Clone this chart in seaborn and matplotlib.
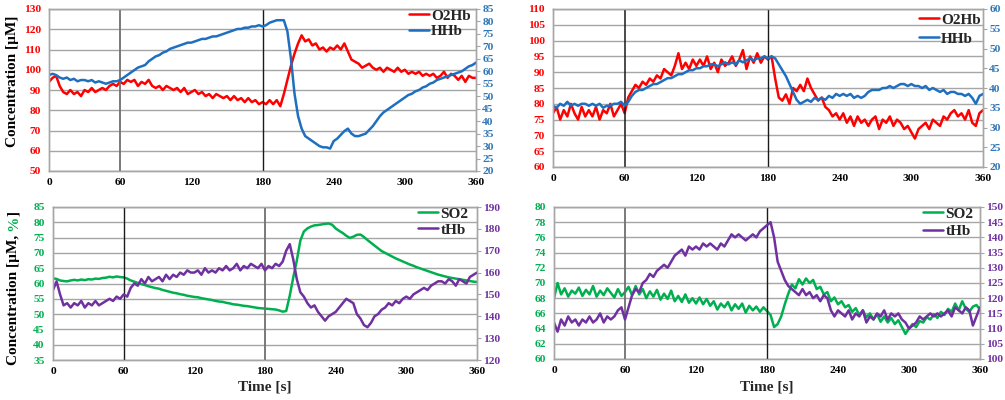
import numpy as np
import pandas as pd
import matplotlib
matplotlib.use("Agg")
import matplotlib.pyplot as plt
import seaborn as sns

# ---------------- data (every 3 s) ----------------
time_s = np.arange(0, 361, 3)
events = [60, 180]

# Panel A (top-left)
o2hb_a = [94, 96, 97, 92, 89, 88, 90, 88, 89, 87,
          90, 89, 91, 89, 90, 91, 90, 92, 93, 92,
          94, 93, 95, 94, 95, 92, 94, 93, 95, 92,
          91, 92, 90, 92, 91, 90, 91, 89, 91, 88,
          89, 90, 88, 89, 87, 88, 86, 88, 87, 86,
          87, 85, 87, 85, 86, 84, 86, 84, 85, 83,
          84, 83, 85, 83, 85, 82, 88, 95, 102, 108,
          113, 117, 114, 115, 112, 113, 110, 111, 109, 111,
          110, 112, 110, 113, 109, 105, 104, 103, 101, 102,
          103, 101, 100, 101, 99, 101, 100, 99, 101, 99,
          100, 98, 99, 98, 99, 97, 98, 97, 98, 96,
          97, 99, 96, 98, 97, 95, 97, 94, 97, 96,
          96]
hhb_a = [58.5, 59, 58.5, 57.5, 57, 57.5, 56.5, 57, 56, 56.5,
         56.5, 56, 56.5, 55.5, 56, 55.5, 55, 55.5, 56, 56,
         56.5, 57.5, 58.5, 59.5, 60.5, 61.5, 62, 62.5, 64, 65,
         66, 66.5, 67.5, 68, 69, 69.5, 70, 70.5, 71, 71.5,
         71.5, 72, 72.5, 73, 73, 73.5, 74, 74, 74.5, 75,
         75.5, 76, 76.5, 77, 77, 77.5, 77.5, 78, 78, 78.5,
         78, 78.5, 79.5, 80, 80.5, 80.5, 80.5, 76, 65, 51,
         42, 37, 34, 33, 32, 31, 30, 29.5, 29.5, 29,
         32, 33, 34.5, 36, 37, 35, 34, 34, 34.5, 35,
         36.5, 38, 40, 42, 43.5, 44.5, 45.5, 46.5, 47.5, 48.5,
         49.5, 50.5, 51, 52, 52.5, 53.5, 54, 55, 55.5, 56.5,
         57, 57.5, 58, 58.5, 59, 59.5, 60, 61, 62, 62.5,
         63.5]

# Panel B (top-right)
o2hb_b = [77, 79, 75, 78, 76, 80, 77, 75, 79, 76,
          78, 76, 79, 75, 78, 77, 80, 76, 78, 80,
          77, 82, 84, 86, 85, 87, 86, 88, 87, 89,
          88, 91, 90, 89, 92, 96, 91, 93, 91, 94,
          92, 94, 92, 95, 91, 93, 90, 94, 92, 93,
          95, 92, 94, 97, 91, 95, 93, 96, 93, 95,
          94, 95, 88, 82, 81, 83, 80, 85, 84, 86,
          84, 88, 85, 83, 81, 82, 79, 78, 76, 77,
          75, 77, 74, 76, 73, 76, 74, 75, 73, 75,
          76, 72, 75, 74, 76, 73, 75, 74, 72, 73,
          71, 69, 72, 73, 74, 72, 75, 74, 73, 76,
          75, 77, 78, 76, 77, 75, 78, 74, 73, 77,
          78]
hhb_b = [35.5, 35, 36, 35.5, 36.5, 35.5, 36, 35.5, 36, 36,
         35.5, 36, 35.5, 36, 35, 35.5, 35.5, 36, 36, 36.5,
         35.5, 36.5, 38, 39, 39.5, 39.5, 40, 40.5, 41, 41,
         41.5, 42, 42.5, 42.5, 43, 43.5, 43.5, 44, 44.5, 44.5,
         45, 45, 45.5, 45.5, 46, 46, 45.5, 46, 46.5, 46,
         46.5, 46, 47, 46.5, 47, 47.5, 47, 47.5, 47.5, 48,
         47.5, 48, 47.5, 46, 44.5, 43, 41, 39, 37, 36,
         36.5, 37, 36.5, 37.5, 37, 37.5, 37, 38, 37.5, 38.5,
         38, 38.5, 38, 38.5, 37.5, 38, 37.5, 38, 39, 39.5,
         39.5, 39.5, 40, 40, 40.5, 40, 40.5, 41, 41, 40.5,
         41, 40.5, 40.5, 40, 40.5, 39.5, 40, 39.5, 39, 39.5,
         38.5, 39, 39, 38.5, 38.5, 38, 38.5, 37.5, 36, 38,
         38.5]

# Panel C (bottom-left)
so2_c = [61.7, 61.5, 61, 60.8, 60.7, 61, 61.2, 61, 61.3, 61.1,
         61.4, 61.3, 61.6, 61.5, 61.8, 61.9, 62.2, 62, 62.3, 62.1,
         62, 61.6, 61, 60.6, 60.2, 59.8, 59.5, 59.1, 58.8, 58.5,
         58.3, 57.9, 57.6, 57.3, 57, 56.8, 56.5, 56.3, 56, 55.8,
         55.6, 55.5, 55.2, 55, 54.8, 54.6, 54.3, 54.1, 54, 53.7,
         53.5, 53.2, 53.1, 52.9, 52.7, 52.6, 52.4, 52.2, 52, 51.9,
         51.8, 51.7, 51.6, 51.5, 51.2, 50.8, 51, 56, 62, 67.5,
         74, 77, 78, 78.6, 79, 79.1, 79.3, 79.5, 79.6, 79.2,
         78, 77.2, 76.5, 75.6, 74.9, 75.3, 75.9, 76, 75.2, 74.2,
         73.3, 72.4, 71.5, 70.6, 70, 69.4, 68.8, 68.2, 67.7, 67.2,
         66.7, 66.2, 65.8, 65.3, 64.9, 64.5, 64.1, 63.7, 63.3, 62.9,
         62.6, 62.3, 62, 61.8, 61.6, 61.4, 61.2, 61, 60.8, 60.6,
         60.5]
thb_c = [152, 156, 150, 145, 146, 144, 146, 145, 147, 144,
         146, 145, 147, 145, 146, 147, 148, 147, 149, 148,
         150, 149, 153, 155, 154, 157, 155, 158, 156, 157,
         158, 156, 159, 157, 159, 158, 160, 159, 161, 160,
         160, 161, 159, 162, 160, 161, 160, 162, 161, 163,
         161, 162, 164, 161, 163, 162, 164, 163, 162, 164,
         161, 163, 162, 164, 163, 165, 170, 173, 166, 157,
         151, 149, 146, 144, 145, 142, 140, 138, 140, 141,
         142, 144, 146, 148, 147, 146, 141, 139, 136, 135,
         137, 140, 141, 143, 144, 146, 145, 147, 146, 148,
         149, 148, 150, 151, 152, 153, 152, 154, 155, 156,
         156, 155, 157, 156, 154, 157, 156, 155, 158, 159,
         160]

# Panel D (bottom-right)
so2_d = [68, 70, 68.5, 69.3, 68.2, 69, 68.6, 69.4, 68.3, 69.1,
         68.5, 69.6, 68.2, 69, 68.4, 69.3, 68.7, 68.1, 69.2, 68.3,
         68.8, 69.5, 68.4, 69.6, 68.5, 69.2, 68, 68.9, 68.2, 69.1,
         67.8, 68.6, 67.9, 69, 67.6, 68.3, 67.5, 68.5, 67.4, 68,
         67.3, 68.1, 67.2, 67.9, 67, 67.6, 66.5, 67.3, 66.8, 67.5,
         66.4, 67.2, 66.6, 67.3, 66.1, 67, 66.4, 66.9, 66.2, 66.8,
         66.3, 65.8, 64.2, 64.6, 65.6, 67.2, 68.6, 69.8, 69.3, 70.5,
         69.8, 70.6, 70, 70.4, 69.2, 69.5, 68.5, 68.8, 67.6, 68.1,
         67.2, 67.6, 66.8, 67.1, 66.2, 66.7, 65.8, 66.4, 65.5, 66,
         65.2, 65.9, 64.9, 65.6, 64.8, 65.4, 64.6, 65.1, 64.2, 63.3,
         64, 64.6, 64.2, 65, 64.8, 65.5, 65.2, 65.9, 65.4, 66.2,
         65.8, 66.6, 66.2, 67.3, 66.4, 67.6, 66.6, 66.2, 66.9, 67.1,
         66.5]
thb_d = [112, 109, 113, 111, 114, 112, 113, 111, 113, 112,
         114, 112, 113, 115, 112, 114, 113, 114, 116, 117,
         113, 117, 121, 123, 122, 125, 126, 128, 127, 129,
         130, 131, 130, 132, 134, 135, 136, 134, 137, 136,
         137, 136, 138, 137, 138, 137, 136, 138, 137, 139,
         141, 140, 141, 140, 139, 140, 141, 140, 142, 143,
         144, 145, 140, 132, 129, 126, 124, 123, 122, 121,
         123, 121, 122, 120, 121, 119, 121, 120, 116, 114,
         116, 115, 114, 116, 113, 115, 114, 116, 112, 114,
         113, 115, 114, 116, 113, 115, 114, 115, 113, 112,
         110, 111, 112, 114, 113, 114, 115, 114, 115, 114,
         115, 116, 114, 117, 116, 115, 117, 116, 111, 114,
         117]

x_ticks = [0, 60, 120, 180, 240, 300, 360]

# ---------------- style ----------------
sns.set_style("white")
plt.rcParams['font.family'] = ['Liberation Serif', 'DejaVu Serif']
plt.rcParams['font.weight'] = 'bold'

RED = '#FF0000'
BLUE = '#2E75B6'
BLUE_LINE = '#1F6FC0'
GREEN = '#00B050'
PURPLE = '#7030A0'
GRID = '#A6A6A6'
DARK = '#1A1A1A'
MID = '#707070'
TICKFS = 8.2
LABFS = 11

W, H = 1005, 400
fig = plt.figure(figsize=(W / 100, H / 100), dpi=100)


def rect(l, t, r, b):
    return [l / W, 1 - b / H, (r - l) / W, (b - t) / H]


panels = [
    dict(rect=rect(49, 9, 476, 171), lv=o2hb_a, rv=hhb_a, ln='O2Hb', rn='HHb',
         lc=RED, rc=BLUE_LINE, ltc=RED, rtc=BLUE,
         ylim=(50, 130, 10), y2lim=(20, 85, 5), leg=(0.988, 1.0), lsp=0.12,
         ev=[(MID, 1.3), (DARK, 1.0)]),
    dict(rect=rect(553, 9, 983, 167), lv=o2hb_b, rv=hhb_b, ln='O2Hb', rn='HHb',
         lc=RED, rc=BLUE_LINE, ltc=RED, rtc=BLUE,
         ylim=(60, 110, 5), y2lim=(20, 60, 5), leg=(0.994, 0.975), lsp=0.35,
         ev=[(DARK, 1.1), (DARK, 1.0)]),
    dict(rect=rect(53, 207, 477, 360), lv=so2_c, rv=thb_c, ln='SO2', rn='tHb',
         lc=GREEN, rc=PURPLE, ltc=GREEN, rtc=PURPLE,
         ylim=(35, 85, 5), y2lim=(120, 190, 10), leg=(0.98, 1.0), lsp=0.15,
         ev=[(DARK, 1.0), (MID, 1.3)]),
    dict(rect=rect(554, 207, 980, 359), lv=so2_d, rv=thb_d, ln='SO2', rn='tHb',
         lc=GREEN, rc=PURPLE, ltc=GREEN, rtc=PURPLE,
         ylim=(60, 80, 2), y2lim=(100, 150, 5), leg=(0.985, 1.0), lsp=0.25,
         ev=[(MID, 1.3), (DARK, 1.0)]),
]

for p in panels:
    ax = fig.add_axes(p['rect'])
    ax2 = ax.twinx()
    df = pd.DataFrame({'Time': time_s, p['ln']: p['lv'], p['rn']: p['rv']})
    sns.lineplot(data=df, x='Time', y=p['ln'], ax=ax, color=p['lc'],
                 linewidth=1.8, estimator=None)
    h1 = ax.lines[-1]
    sns.lineplot(data=df, x='Time', y=p['rn'], ax=ax2, color=p['rc'],
                 linewidth=1.8, estimator=None)
    h2 = ax2.lines[-1]
    for e, (c, w) in zip(events, p['ev']):
        ax.axvline(e, color=c, lw=w, zorder=3)

    lo, hi, st = p['ylim']
    ax.set_ylim(lo, hi)
    ax.set_yticks(np.arange(lo, hi + st / 2, st))
    lo2, hi2, st2 = p['y2lim']
    ax2.set_ylim(lo2, hi2)
    ax2.set_yticks(np.arange(lo2, hi2 + st2 / 2, st2))
    ax.set_xlim(0, 360)
    ax.set_xticks(x_ticks)
    ax.set_xlabel('')
    ax.set_ylabel('')
    ax2.set_ylabel('')

    ax.yaxis.grid(True, color=GRID, lw=1.0)
    ax.xaxis.grid(False)
    ax2.grid(False)
    ax.set_axisbelow(True)

    ax.tick_params(axis='y', labelcolor=p['ltc'], labelsize=TICKFS, length=0, pad=6)
    ax.tick_params(axis='x', labelcolor='black', labelsize=TICKFS, length=0, pad=5)
    ax2.tick_params(axis='y', labelcolor=p['rtc'], labelsize=TICKFS, length=3,
                    width=0.8, color=GRID, direction='out', pad=1.5)
    for a in (ax, ax2):
        for s in a.spines.values():
            s.set_color(GRID)
            s.set_linewidth(1.0)
        for lab in a.get_xticklabels() + a.get_yticklabels():
            lab.set_fontweight('bold')

    ax2.legend([h1, h2], [p['ln'], p['rn']], loc='upper right',
               bbox_to_anchor=p['leg'], bbox_transform=ax.transAxes,
               frameon=False, prop={'weight': 'bold', 'size': LABFS},
               handlelength=1.3, handletextpad=0.15, labelspacing=p['lsp'],
               borderaxespad=0, borderpad=0)

# ---------------- outer labels ----------------
renderer = fig.canvas.get_renderer()


def text_width(s, fs):
    t = fig.text(0, 0, s, fontsize=fs, fontweight='bold')
    w = t.get_window_extent(renderer).width
    t.remove()
    return w


def vertical_label(x_px, yc_px, parts, fs):
    full = ''.join(s for s, _ in parts)
    Wt = text_width(full, fs)
    y0 = (H - yc_px) - Wt / 2
    for i, (s, c) in enumerate(parts):
        rest = ''.join(q for q, _ in parts[i:])
        off = Wt - text_width(rest, fs) if i > 0 else 0
        fig.text(x_px / W, (y0 + off) / H, s, rotation=90, ha='center',
                 va='bottom', fontsize=fs, fontweight='bold', color=c)


vertical_label(13, 81, [('Concentration [µM]', 'black')], LABFS)
vertical_label(14, 288, [('Concentration [µM, ', 'black'), ('%', GREEN),
                         (']', 'black')], LABFS)

fig.text(265 / W, 1 - 387 / H, 'Time [s]', ha='center', va='center',
         fontsize=LABFS, fontweight='bold')
fig.text(767 / W, 1 - 387 / H, 'Time [s]', ha='center', va='center',
         fontsize=LABFS, fontweight='bold')

fig.savefig('out.png', dpi=100)
